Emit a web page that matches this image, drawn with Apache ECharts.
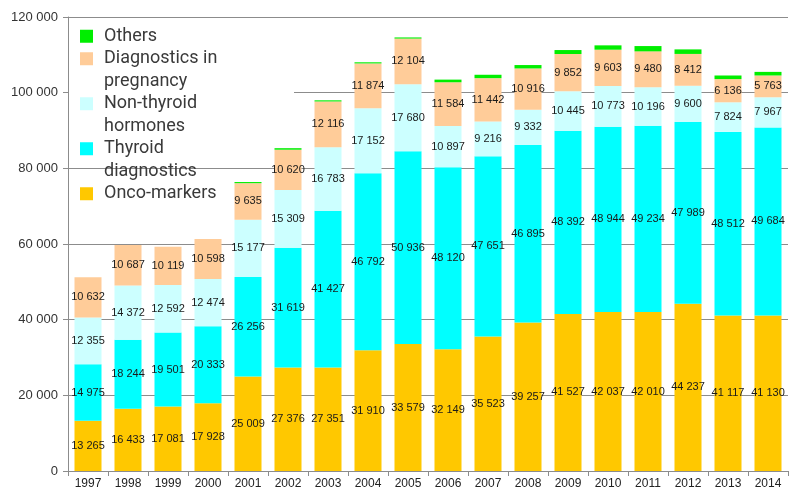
<!DOCTYPE html>
<html>
<head>
<meta charset="utf-8">
<script src="https://cdn.jsdelivr.net/npm/echarts@6/dist/echarts.min.js"></script>
<style>html,body{margin:0;padding:0;background:#fff}#c{width:789px;height:492px}</style>
</head>
<body>
<div id="c"></div>
<script>
var years = ['1997','1998','1999','2000','2001','2002','2003','2004','2005','2006','2007','2008','2009','2010','2011','2012','2013','2014'];
var onco = [13265,16433,17081,17928,25009,27376,27351,31910,33579,32149,35523,39257,41527,42037,42010,44237,41117,41130];
var thyroid = [14975,18244,19501,20333,26256,31619,41427,46792,50936,48120,47651,46895,48392,48944,49234,47989,48512,49684];
var nonThyroid = [12355,14372,12592,12474,15177,15309,16783,17152,17680,10897,9216,9332,10445,10773,10196,9600,7824,7967];
var pregnancy = [10632,10687,10119,10598,9635,10620,12116,11874,12104,11584,11442,10916,9852,9603,9480,8412,6136,5763];
var others = [0,0,0,0,300,400,300,300,300,700,900,900,1050,1150,1400,1200,950,950];
var yTicks = [0,20000,40000,60000,80000,100000,120000];

var names = ['Onco-markers','Thyroid diagnostics','Non-thyroid hormones','Diagnostics in pregnancy','Others'];
var colors = ['#FFC800','#00FFFF','#CCFFFF','#FFCC99','#00EE00'];
var keys = ['onco','thy','non','pre','oth'];
var legendText = {
  'Others': 'Others',
  'Diagnostics in pregnancy': 'Diagnostics in\n{p|}pregnancy',
  'Non-thyroid hormones': 'Non-thyroid\n{p|}hormones',
  'Thyroid diagnostics': 'Thyroid\n{p|}diagnostics',
  'Onco-markers': 'Onco-markers'
};

function fmt(v){ return String(v).replace(/\B(?=(\d{3})+(?!\d))/g,' '); }

var chart = echarts.init(document.getElementById('c'), null, {renderer:'canvas'});
var seriesData = [onco, thyroid, nonThyroid, pregnancy, others];
var rich = { p: {width: 24}, g: {width: 11} };
keys.forEach(function(k,i){ rich[k] = {width:13, height:13, backgroundColor: colors[i]}; });

var series = names.map(function(n,i){
  return {
    name: n, type: 'bar', stack: 'total', barWidth: 27,
    itemStyle: {color: colors[i]},
    label: {
      show: i < 4, position: 'inside', color: '#1a1a1a',
      fontFamily: 'Liberation Sans, Arial, sans-serif', fontSize: 11,
      formatter: function(p){ return fmt(p.value); }
    },
    emphasis: {disabled: true},
    data: seriesData[i]
  };
});

chart.setOption({
  animation: false,
  grid: {left: 68, right: 1, top: 17, bottom: 21},
  graphic: [{
    type: 'rect', z: 1, silent: true,
    shape: {x: 69, y: 19, width: 225, height: 147},
    style: {fill: '#fff'}
  }],
  legend: {
    orient: 'vertical', left: 75, top: 25, padding: 0, itemGap: 0,
    icon: 'none', itemWidth: 0, itemHeight: 13,
    data: ['Others','Diagnostics in pregnancy','Non-thyroid hormones','Thyroid diagnostics','Onco-markers'],
    formatter: function(name){
      var k = keys[names.indexOf(name)];
      return '{' + k + '|}{g|}' + legendText[name];
    },
    textStyle: {
      fontFamily: 'Roboto, sans-serif', fontSize: 18, color: '#3a3a3a',
      lineHeight: 22.5, rich: rich
    }
  },
  xAxis: {
    type: 'category', data: years,
    axisLine: {lineStyle: {color: '#8c8c8c'}},
    axisTick: {show: true, length: 5, lineStyle: {color: '#8c8c8c'}},
    axisLabel: {color: '#222', fontSize: 12, fontFamily: 'Liberation Sans, Arial, sans-serif', margin: 7}
  },
  yAxis: {
    type: 'value', min: yTicks[0], max: yTicks[yTicks.length-1], interval: 20000,
    axisLine: {show: true, lineStyle: {color: '#8c8c8c'}},
    axisTick: {show: true, length: 5, lineStyle: {color: '#8c8c8c'}},
    splitLine: {lineStyle: {color: '#8c8c8c'}},
    axisLabel: {color: '#333', fontSize: 13, fontFamily: 'Liberation Sans, Arial, sans-serif', margin: 10,
      formatter: function(v){ return fmt(v); }}
  },
  series: series
});
</script>
</body>
</html>
